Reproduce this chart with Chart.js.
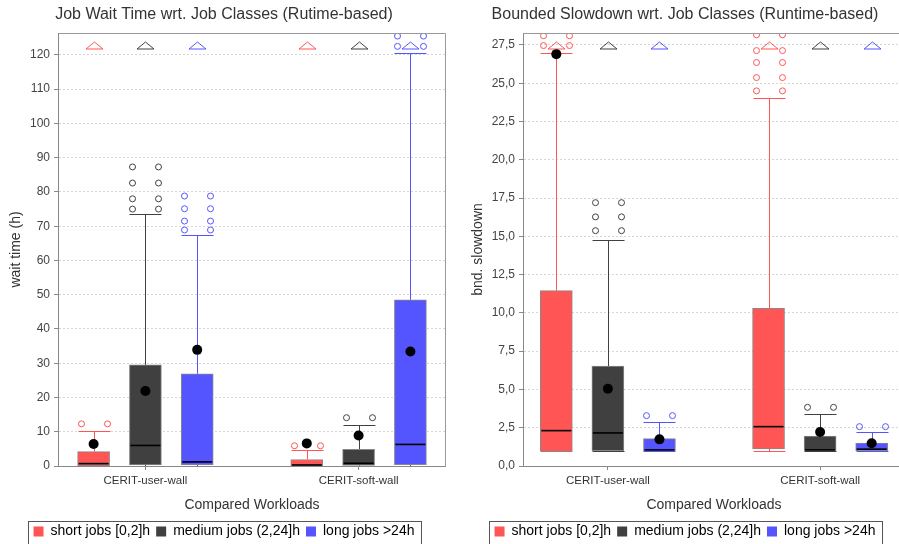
<!DOCTYPE html>
<html>
<head>
<meta charset="utf-8">
<script src="https://cdn.jsdelivr.net/npm/chart.js@4/dist/chart.umd.min.js"></script>
<style>
  html, body { margin: 0; padding: 0; background: #fff; }
  body { width: 899px; height: 544px; overflow: hidden; position: relative; }
  canvas { position: absolute; top: 0; }
  #waitChart { left: 0; }
  #bsldChart { left: 450px; }
</style>
</head>
<body>
<canvas id="waitChart" width="446" height="550"></canvas>
<canvas id="bsldChart" width="455" height="550"></canvas>
<script>
// ---- categories and series ----
const workloads = ['CERIT-user-wall', 'CERIT-soft-wall'];
const jobClasses = ['short jobs [0,2]h', 'medium jobs (2,24]h', 'long jobs >24h'];
const classColors = ['#FF5555', '#404040', '#5555FF'];

// ---- job wait time (h): one row per job class, one column per workload ----
const waitLow     = [[0, 0], [0, 0], [0, 0]];
const waitQ1      = [[0.1, 0.1], [0.3, 0.2], [0.3, 0.4]];
const waitMedian  = [[0.7, 0.3], [6.0, 0.8], [1.2, 6.3]];
const waitQ3      = [[4.2, 1.9], [29.5, 4.9], [26.9, 48.5]];
const waitHigh    = [[10.3, 4.7], [73.6, 12.0], [67.4, 120.7]];
const waitMean    = [[6.4, 6.6], [21.9, 8.9], [33.9, 33.4]];
const waitOutliers = [
  [[12.3], [5.9]],
  [[75.0, 78.0, 82.6, 87.3], [14.1]],
  [[68.9, 71.5, 75.1, 78.8], [122.5, 125.5]]
];
const waitFarOut  = [[true, true], [true, true], [true, true]];
const waitTicks   = { max: 126.4, step: 10 };

// ---- bounded slowdown ----
const bsldLow     = [[1.0, 1.0], [1.0, 1.0], [1.0, 1.0]];
const bsldQ1      = [[1.0, 1.12], [1.0, 1.0], [1.0, 1.0]];
const bsldMedian  = [[2.31, 2.57], [2.16, 1.05], [1.05, 1.1]];
const bsldQ3      = [[11.45, 10.3], [6.53, 1.96], [1.79, 1.5]];
const bsldHigh    = [[27.0, 24.04], [14.76, 3.38], [2.89, 2.24]];
const bsldMean    = [[26.9, null], [5.05, 2.22], [1.74, 1.48]];
const bsldOutliers = [
  [[27.46, 28.1], [24.5, 25.37, 26.35, 27.13, 28.16]],
  [[15.37, 16.27, 17.2], [3.83]],
  [[3.29], [2.57]]
];
const bsldFarOut  = [[true, true], [true, true], [true, true]];
const bsldTicks   = { max: 28.28, step: 2.5 };

// horizontal offset of each job class inside a workload group (in category units)
const classOffsets = [-0.243, 0, 0.243];

Chart.defaults.font.family = '"Liberation Sans", Arial, Helvetica, sans-serif';

const BOX_W = 32;

function crisp(v) { return Math.round(v) + 0.5; }

// whiskers, outliers, far-out markers and medians for the box datasets
function makeBoxPlugin(stats) {
  return {
    id: 'boxDetails',
    beforeDatasetsDraw(chart) {
      const { ctx, chartArea: a, scales: { x, y } } = chart;
      ctx.save();
      ctx.beginPath();
      ctx.rect(a.left, a.top, a.width, a.height);
      ctx.clip();
      ctx.lineWidth = 1;
      stats.q1.forEach((row, s) => row.forEach((q1, c) => {
        const cx = crisp(x.getPixelForValue(c + classOffsets[s]));
        const half = BOX_W / 2;
        ctx.strokeStyle = classColors[s];
        const yQ3 = y.getPixelForValue(stats.q3[s][c]);
        const yHi = crisp(y.getPixelForValue(stats.high[s][c]));
        const yQ1 = y.getPixelForValue(q1);
        const yLo = crisp(y.getPixelForValue(stats.low[s][c]));
        ctx.beginPath();
        ctx.moveTo(cx, yQ3); ctx.lineTo(cx, yHi);
        ctx.moveTo(cx - half, yHi); ctx.lineTo(cx + half, yHi);
        ctx.moveTo(cx, yQ1); ctx.lineTo(cx, yLo);
        ctx.moveTo(cx - half, yLo); ctx.lineTo(cx + half, yLo);
        ctx.stroke();
        // outliers, drawn as a pair of rings on either side of the whisker
        stats.outliers[s][c].forEach(v => {
          const py = y.getPixelForValue(v);
          [-13, 13].forEach(dx => {
            ctx.beginPath();
            ctx.arc(cx + dx, py, 3, 0, Math.PI * 2);
            ctx.stroke();
          });
        });
        // far-out marker near the top edge
        if (stats.farOut[s][c]) {
          const t = a.top + 9, b = a.top + 16;
          ctx.beginPath();
          ctx.moveTo(cx, t);
          ctx.lineTo(cx + 8.5, b);
          ctx.lineTo(cx - 8.5, b);
          ctx.closePath();
          ctx.stroke();
        }
      }));
      ctx.restore();
    },
    afterDatasetDraw(chart, args) {
      const ds = chart.data.datasets[args.index];
      if (ds.boxClass === undefined) return;
      const s = ds.boxClass;
      const { ctx, chartArea: a, scales: { x, y } } = chart;
      ctx.save();
      ctx.beginPath();
      ctx.rect(a.left, a.top, a.width, a.height);
      ctx.clip();
      ctx.strokeStyle = '#000';
      ctx.lineWidth = 1.6;
      stats.median[s].forEach((m, c) => {
        const cx = x.getPixelForValue(c + classOffsets[s]);
        const py = y.getPixelForValue(m);
        ctx.beginPath();
        ctx.moveTo(cx - BOX_W / 2 + 1, py);
        ctx.lineTo(cx + BOX_W / 2 - 1, py);
        ctx.stroke();
      });
      ctx.restore();
    }
  };
}

// frame around the legend row and around the plot
const framePlugin = {
  id: 'frames',
  afterDraw(chart) {
    const { ctx, chartArea: a, legend } = chart;
    ctx.save();
    ctx.strokeStyle = '#999';
    ctx.lineWidth = 1;
    ctx.beginPath();
    ctx.moveTo(crisp(a.left), crisp(a.top));
    ctx.lineTo(crisp(a.right) - 1, crisp(a.top));
    ctx.lineTo(crisp(a.right) - 1, crisp(a.bottom));
    ctx.stroke();
    if (legend && legend.legendHitBoxes && legend.legendHitBoxes.length) {
      const boxes = legend.legendHitBoxes;
      const l = Math.min(...boxes.map(b => b.left)) - 6;
      const r = Math.max(...boxes.map(b => b.left + b.width)) + 6;
      ctx.strokeStyle = '#555';
      ctx.strokeRect(crisp(l), 521.5, Math.round(r - l), 40);
    }
    ctx.restore();
  }
};

function buildChart(canvasId, cfg) {
  const st = cfg.stats;
  const boxSets = jobClasses.map((name, s) => ({
    type: 'bar',
    label: name,
    boxClass: s,
    data: st.q1[s].map((q1, c) => ({ x: c + classOffsets[s], y: [q1, st.q3[s][c]] })),
    backgroundColor: classColors[s],
    borderColor: '#888',
    borderWidth: 1,
    borderSkipped: false,
    barThickness: BOX_W,
    grouped: false,
    order: 1
  }));
  const meanPoints = [];
  st.mean.forEach((row, s) => row.forEach((m, c) => {
    if (m !== null) meanPoints.push({ x: c + classOffsets[s], y: m });
  }));
  const meanSet = {
    type: 'scatter',
    label: 'mean',
    data: meanPoints,
    backgroundColor: '#000',
    borderWidth: 0,
    pointRadius: 5,
    order: 0
  };

  return new Chart(document.getElementById(canvasId), {
    type: 'bar',
    data: { datasets: [...boxSets, meanSet] },
    plugins: [makeBoxPlugin(st), framePlugin],
    options: {
      responsive: false,
      animation: false,
      events: [],
      devicePixelRatio: 1,
      layout: {
        autoPadding: false,
        padding: { left: cfg.padLeft, right: 0, top: 0, bottom: 1.5 }
      },
      scales: {
        x: {
          type: 'linear',
          min: cfg.xMin,
          max: cfg.xMax,
          offset: false,
          afterBuildTicks: s => { s.ticks = workloads.map((_, i) => ({ value: i })); },
          afterFit: s => { s.height = 52.5; },
          ticks: {
            callback: v => workloads[v] ?? '',
            font: { size: 11.5 },
            color: '#333',
            padding: 4.4,
            maxRotation: 0,
            autoSkip: false
          },
          grid: { drawOnChartArea: false, offset: false, tickLength: 4, tickColor: '#888' },
          border: { color: '#888' },
          title: {
            display: true,
            text: 'Compared Workloads',
            font: { size: 14 },
            color: '#333',
            padding: { top: 0, bottom: 5.1 }
          }
        },
        y: {
          type: 'linear',
          min: 0,
          max: cfg.ticks.max,
          afterFit: s => { s.width = cfg.yWidth; },
          ticks: {
            stepSize: cfg.ticks.step,
            includeBounds: false,
            font: { size: 12 },
            color: '#444',
            padding: 4,
            callback: cfg.tickFormat
          },
          grid: { color: '#d6d6d6', tickColor: '#888', tickLength: 4, tickBorderDash: [] },
          border: { color: '#888', dash: [2, 2] },
          title: {
            display: true,
            text: cfg.yTitle,
            font: { size: 14 },
            color: '#333',
            padding: { top: cfg.yTitlePad, bottom: 0 }
          }
        }
      },
      plugins: {
        title: {
          display: true,
          text: cfg.title,
          font: { size: 16, weight: 'normal' },
          color: '#333',
          padding: { top: 5, bottom: 8.8 }
        },
        legend: {
          position: 'bottom',
          labels: {
            font: { size: 14 },
            color: '#333',
            boxWidth: 10,
            boxHeight: 10,
            padding: 6,
            generateLabels: () => jobClasses.map((name, s) => ({
              text: name,
              fillStyle: classColors[s],
              strokeStyle: classColors[s],
              lineWidth: 0,
              datasetIndex: s
            }))
          }
        },
        tooltip: { enabled: false }
      }
    }
  });
}

buildChart('waitChart', {
  title: 'Job Wait Time wrt. Job Classes (Rutime-based)',
  yTitle: 'wait time (h)',
  yTitlePad: 5.6,
  padLeft: 2,
  yWidth: 56,
  xMin: -0.41,
  xMax: 1.41,
  ticks: waitTicks,
  tickFormat: v => String(v),
  stats: {
    low: waitLow, q1: waitQ1, median: waitMedian, q3: waitQ3, high: waitHigh,
    mean: waitMean, outliers: waitOutliers, farOut: waitFarOut
  }
});

buildChart('bsldChart', {
  title: 'Bounded Slowdown wrt. Job Classes (Runtime-based)',
  yTitle: 'bnd. slowdown',
  yTitlePad: 4.6,
  padLeft: 15,
  yWidth: 58,
  xMin: -0.40,
  xMax: 1.40,
  ticks: bsldTicks,
  tickFormat: v => Number(v).toFixed(1).replace('.', ','),
  stats: {
    low: bsldLow, q1: bsldQ1, median: bsldMedian, q3: bsldQ3, high: bsldHigh,
    mean: bsldMean, outliers: bsldOutliers, farOut: bsldFarOut
  }
});
</script>
</body>
</html>
